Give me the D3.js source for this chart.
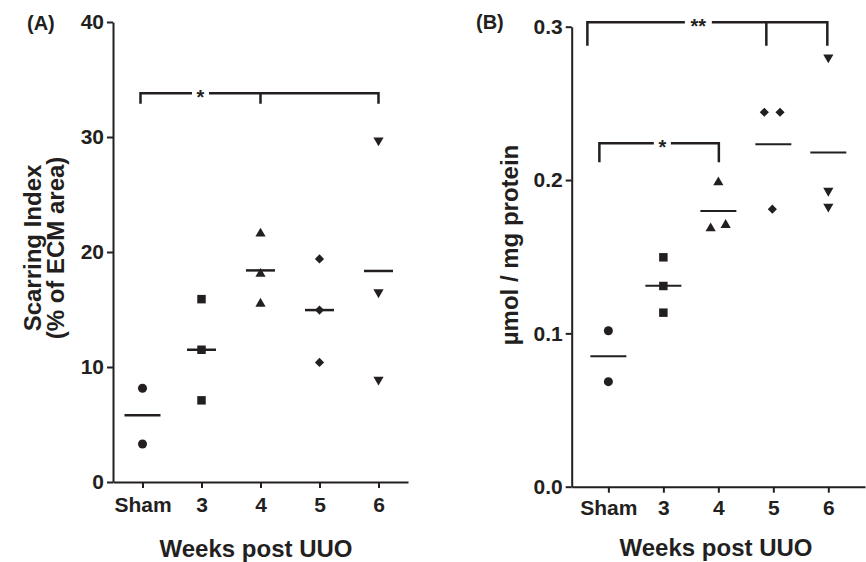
<!DOCTYPE html>
<html>
<head>
<meta charset="utf-8">
<script src="https://cdn.jsdelivr.net/npm/d3@7"></script>
<style>
  body { margin: 0; background: #fff; }
  text { font-family: "Liberation Sans", Arial, sans-serif; font-weight: bold; fill: #231f20; }
</style>
</head>
<body>
<svg id="chart" width="866" height="562"></svg>
<script>
// groups on the x axis
const categories = ['Sham', '3', '4', '5', '6']

// panel A: scarring index (% of ECM area), one array per group
const scarring = [[8.15, 3.3], [15.9, 11.5, 7.1], [21.6, 18.1, 15.5], [19.4, 14.95, 10.4], [29.7, 16.5, 8.9]]
const scarringMean = [5.8, 11.5, 18.4, 14.95, 18.35]
const ticksA = [0, 10, 20, 30, 40]

// panel B: umol / mg protein
const umol = [[0.1017, 0.0685], [0.1496, 0.1309, 0.1135], [0.1985, 0.1685, 0.1707], [0.2442, 0.2442, 0.181], [0.28, 0.193, 0.1826]]
const umolMean = [0.085, 0.131, 0.1798, 0.2233, 0.218]
const ticksB = [0, 0.1, 0.2, 0.3]

// horizontal scatter of overlapping points in B (px)
const jitterB = [[0, 0], [0, 0, 0], [0, -7.7, 7.3], [-9, 6.7, -1], [0, 0, 0]]

const ink = '#231f20'
const svg = d3.select('#chart')

const triangleDown = { draw (ctx, size) { d3.symbolTriangle.draw(ctx, size) } }
const shapes = [
  { type: d3.symbolCircle, size: 64, rot: 0 },
  { type: d3.symbolSquare, size: 72, rot: 0 },
  { type: d3.symbolTriangle, size: 45, rot: 0 },
  { type: d3.symbolSquare, size: 42, rot: 45 },
  { type: triangleDown, size: 45, rot: 180 }
]

function panel (opt) {
  const x = d3.scalePoint().domain(categories).range(opt.xRange).padding(opt.pad)
  const y = d3.scaleLinear().domain(opt.yDomain).range(opt.yRange)
  const g = svg.append('g')

  const yAxis = g.append('g')
      .attr('transform', 'translate(' + opt.xRange[0] + ',0)')
      .call(d3.axisLeft(y).tickValues(opt.ticks).tickFormat(opt.fmt).tickSize(6).tickSizeOuter(0).tickPadding(3))
  const xAxis = g.append('g')
      .attr('transform', 'translate(0,' + opt.yRange[0] + ')')
      .call(d3.axisBottom(x).tickSize(6).tickSizeOuter(0).tickPadding(opt.xPad))
  for (const ax of [yAxis, xAxis]) {
    ax.selectAll('path, line').attr('stroke', ink).attr('stroke-width', 2)
    ax.selectAll('text').style('font-size', '21px').attr('fill', ink)
    ax.attr('font-family', null).attr('font-size', null)
  }

  // points
  opt.values.forEach((vals, i) => {
    const s = shapes[i]
    g.selectAll(null)
        .data(vals)
      .enter().append('path')
        .attr('d', d3.symbol().type(s.type).size(s.size))
        .attr('transform', (d, j) => 'translate(' + (x(categories[i]) + (opt.jitter ? opt.jitter[i][j] : 0)) + ',' + y(d) + ') rotate(' + s.rot + ')')
        .attr('fill', ink)
  })

  // mean lines
  g.selectAll(null)
      .data(opt.means)
    .enter().append('line')
      .attr('x1', (d, i) => x(categories[i]) - opt.meanW[i] / 2)
      .attr('x2', (d, i) => x(categories[i]) + opt.meanW[i] / 2)
      .attr('y1', d => y(d))
      .attr('y2', d => y(d))
      .attr('stroke', ink)
      .attr('stroke-width', opt.meanStroke)

  // significance brackets
  opt.brackets.forEach(b => {
    const xs = b.at.map(a => x(a[0]) + a[1])
    const yTop = y(b.top), yBot = y(b.bottom)
    g.append('path')
        .attr('d', 'M' + xs[0] + ',' + yBot + 'V' + yTop + 'H' + xs[xs.length - 1] + 'V' + yBot +
          xs.slice(1, -1).map(v => 'M' + v + ',' + yTop + 'V' + yBot).join(''))
        .attr('fill', 'none')
        .attr('stroke', ink)
        .attr('stroke-width', 2.5)
    const lx = x(b.labelAt[0]) + b.labelAt[1]
    g.append('rect')
        .attr('x', lx - b.gap / 2).attr('y', yTop - 5)
        .attr('width', b.gap).attr('height', 10)
        .attr('fill', '#fff')
    g.append('text')
        .attr('x', lx).attr('y', yTop + 11)
        .attr('text-anchor', 'middle')
        .style('font-size', '20px')
        .text(b.label)
  })

  // titles
  g.append('text')
      .attr('x', opt.xTitle[0]).attr('y', opt.xTitle[1])
      .attr('text-anchor', 'middle')
      .style('font-size', '24px')
      .text('Weeks post UUO')
  opt.yTitle.forEach(t => {
    g.append('text')
        .attr('transform', 'translate(' + t.x + ',' + opt.yTitleMid + ') rotate(-90)')
        .attr('text-anchor', 'middle')
        .style('font-size', '24px')
        .text(t.text)
  })
  g.append('text')
      .attr('x', opt.letter[0]).attr('y', opt.letter[1])
      .style('font-size', '20px')
      .text(opt.letterText)
}

panel({
  xRange: [113, 408], pad: 0.5, xPad: 9,
  yDomain: [0, 40], yRange: [482, 22],
  ticks: ticksA, fmt: d3.format('d'),
  values: scarring, means: scarringMean,
  meanW: [36, 29, 29, 29, 29], meanStroke: 2.5,
  brackets: [
    { top: 33.8, bottom: 32.9, at: [['Sham', -2], ['4', 0], ['6', 0]], label: '*', labelAt: ['3', -1], gap: 17 }
  ],
  xTitle: [256, 557],
  yTitle: [{ x: 40.5, text: 'Scarring Index' }, { x: 64, text: '(% of ECM area)' }],
  yTitleMid: 248,
  letter: [27, 30], letterText: '(A)'
})

panel({
  xRange: [571.7, 865], pad: 0.667, xPad: 7.5,
  yDomain: [0, 0.3], yRange: [486.7, 26.7],
  ticks: ticksB, fmt: d3.format('.1f'),
  values: umol, means: umolMean, jitter: jitterB,
  meanW: [36, 36, 36, 36, 36], meanStroke: 2,
  brackets: [
    { top: 0.3029, bottom: 0.2876, at: [['Sham', -21], ['5', -7], ['6', -1]], label: '**', labelAt: ['4', -20], gap: 27 },
    { top: 0.224, bottom: 0.2116, at: [['Sham', -9], ['4', 0.5]], label: '*', labelAt: ['3', -1], gap: 17 }
  ],
  xTitle: [716, 556],
  yTitle: [{ x: 518, text: 'µmol / mg protein' }],
  yTitleMid: 245,
  letter: [476, 29], letterText: '(B)'
})
</script>
</body>
</html>
